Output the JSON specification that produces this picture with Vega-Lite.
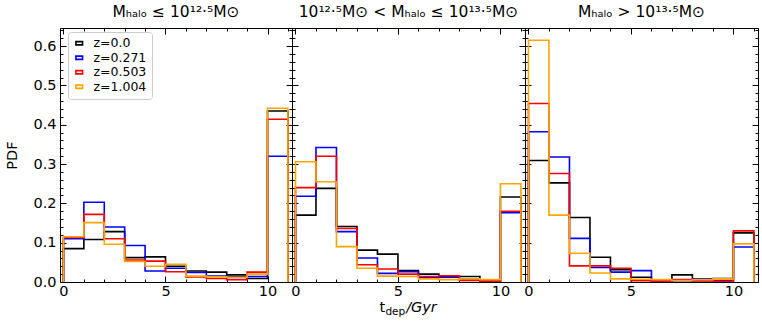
{
"$schema": "https://vega.github.io/schema/vega-lite/v6.json",
"padding": {"left": 4, "top": 4, "right": 4, "bottom": 5},
"bounds": "flush",
"config": {
  "font": "DejaVu Sans",
  "view": {"stroke": "#000000", "strokeWidth": 1},
  "concat": {"spacing": 0},
  "axis": {"domain": false, "grid": false, "labelFont": "DejaVu Sans", "labelFontSize": 14.5, "labelColor": "#000000", "tickColor": "#000000", "tickWidth": 1, "titleFont": "DejaVu Sans", "titleFontWeight": "normal", "titleFontSize": 14.5, "titleColor": "#000000"},
  "title": {"font": "DejaVu Sans", "fontSize": 15.5, "fontWeight": "normal", "color": "#000000", "offset": 7}
},
"datasets": {"d": [
{"p":"a","z":"z=0.0","t":0,"pdf":0},{"p":"a","z":"z=0.0","t":0,"pdf":0.085},{"p":"a","z":"z=0.0","t":1,"pdf":0.108},{"p":"a","z":"z=0.0","t":2,"pdf":0.128},{"p":"a","z":"z=0.0","t":3,"pdf":0.062},{"p":"a","z":"z=0.0","t":4,"pdf":0.064},{"p":"a","z":"z=0.0","t":5,"pdf":0.040},{"p":"a","z":"z=0.0","t":6,"pdf":0.028},{"p":"a","z":"z=0.0","t":7,"pdf":0.025},{"p":"a","z":"z=0.0","t":8,"pdf":0.018},{"p":"a","z":"z=0.0","t":9,"pdf":0.009},{"p":"a","z":"z=0.0","t":10,"pdf":0.435},{"p":"a","z":"z=0.0","t":11,"pdf":0},
{"p":"a","z":"z=0.271","t":0,"pdf":0},{"p":"a","z":"z=0.271","t":0,"pdf":0.110},{"p":"a","z":"z=0.271","t":1,"pdf":0.203},{"p":"a","z":"z=0.271","t":2,"pdf":0.140},{"p":"a","z":"z=0.271","t":3,"pdf":0.093},{"p":"a","z":"z=0.271","t":4,"pdf":0.028},{"p":"a","z":"z=0.271","t":5,"pdf":0.035},{"p":"a","z":"z=0.271","t":6,"pdf":0.024},{"p":"a","z":"z=0.271","t":7,"pdf":0.015},{"p":"a","z":"z=0.271","t":8,"pdf":0.013},{"p":"a","z":"z=0.271","t":9,"pdf":0.014},{"p":"a","z":"z=0.271","t":10,"pdf":0.320},{"p":"a","z":"z=0.271","t":11,"pdf":0},
{"p":"a","z":"z=0.503","t":0,"pdf":0},{"p":"a","z":"z=0.503","t":0,"pdf":0.113},{"p":"a","z":"z=0.503","t":1,"pdf":0.172},{"p":"a","z":"z=0.503","t":2,"pdf":0.110},{"p":"a","z":"z=0.503","t":3,"pdf":0.056},{"p":"a","z":"z=0.503","t":4,"pdf":0.053},{"p":"a","z":"z=0.503","t":5,"pdf":0.026},{"p":"a","z":"z=0.503","t":6,"pdf":0.013},{"p":"a","z":"z=0.503","t":7,"pdf":0.009},{"p":"a","z":"z=0.503","t":8,"pdf":0.006},{"p":"a","z":"z=0.503","t":9,"pdf":0.025},{"p":"a","z":"z=0.503","t":10,"pdf":0.414},{"p":"a","z":"z=0.503","t":11,"pdf":0},
{"p":"a","z":"z=1.004","t":0,"pdf":0},{"p":"a","z":"z=1.004","t":0,"pdf":0.115},{"p":"a","z":"z=1.004","t":1,"pdf":0.151},{"p":"a","z":"z=1.004","t":2,"pdf":0.096},{"p":"a","z":"z=1.004","t":3,"pdf":0.052},{"p":"a","z":"z=1.004","t":4,"pdf":0.040},{"p":"a","z":"z=1.004","t":5,"pdf":0.045},{"p":"a","z":"z=1.004","t":6,"pdf":0.015},{"p":"a","z":"z=1.004","t":7,"pdf":0.013},{"p":"a","z":"z=1.004","t":8,"pdf":0.012},{"p":"a","z":"z=1.004","t":9,"pdf":0.020},{"p":"a","z":"z=1.004","t":10,"pdf":0.442},{"p":"a","z":"z=1.004","t":11,"pdf":0},
{"p":"b","z":"z=0.0","t":0,"pdf":0},{"p":"b","z":"z=0.0","t":0,"pdf":0.170},{"p":"b","z":"z=0.0","t":1,"pdf":0.238},{"p":"b","z":"z=0.0","t":2,"pdf":0.141},{"p":"b","z":"z=0.0","t":3,"pdf":0.081},{"p":"b","z":"z=0.0","t":4,"pdf":0.071},{"p":"b","z":"z=0.0","t":5,"pdf":0.029},{"p":"b","z":"z=0.0","t":6,"pdf":0.020},{"p":"b","z":"z=0.0","t":7,"pdf":0.014},{"p":"b","z":"z=0.0","t":8,"pdf":0.014},{"p":"b","z":"z=0.0","t":9,"pdf":0.002},{"p":"b","z":"z=0.0","t":10,"pdf":0.216},{"p":"b","z":"z=0.0","t":11,"pdf":0},
{"p":"b","z":"z=0.271","t":0,"pdf":0},{"p":"b","z":"z=0.271","t":0,"pdf":0.218},{"p":"b","z":"z=0.271","t":1,"pdf":0.342},{"p":"b","z":"z=0.271","t":2,"pdf":0.128},{"p":"b","z":"z=0.271","t":3,"pdf":0.061},{"p":"b","z":"z=0.271","t":4,"pdf":0.022},{"p":"b","z":"z=0.271","t":5,"pdf":0.026},{"p":"b","z":"z=0.271","t":6,"pdf":0.012},{"p":"b","z":"z=0.271","t":7,"pdf":0.012},{"p":"b","z":"z=0.271","t":8,"pdf":0.006},{"p":"b","z":"z=0.271","t":9,"pdf":0.002},{"p":"b","z":"z=0.271","t":10,"pdf":0.176},{"p":"b","z":"z=0.271","t":11,"pdf":0},
{"p":"b","z":"z=0.503","t":0,"pdf":0},{"p":"b","z":"z=0.503","t":0,"pdf":0.240},{"p":"b","z":"z=0.503","t":1,"pdf":0.320},{"p":"b","z":"z=0.503","t":2,"pdf":0.136},{"p":"b","z":"z=0.503","t":3,"pdf":0.044},{"p":"b","z":"z=0.503","t":4,"pdf":0.033},{"p":"b","z":"z=0.503","t":5,"pdf":0.020},{"p":"b","z":"z=0.503","t":6,"pdf":0.014},{"p":"b","z":"z=0.503","t":7,"pdf":0.016},{"p":"b","z":"z=0.503","t":8,"pdf":0.004},{"p":"b","z":"z=0.503","t":9,"pdf":0.002},{"p":"b","z":"z=0.503","t":10,"pdf":0.180},{"p":"b","z":"z=0.503","t":11,"pdf":0},
{"p":"b","z":"z=1.004","t":0,"pdf":0},{"p":"b","z":"z=1.004","t":0,"pdf":0.306},{"p":"b","z":"z=1.004","t":1,"pdf":0.255},{"p":"b","z":"z=1.004","t":2,"pdf":0.090},{"p":"b","z":"z=1.004","t":3,"pdf":0.035},{"p":"b","z":"z=1.004","t":4,"pdf":0.015},{"p":"b","z":"z=1.004","t":5,"pdf":0.014},{"p":"b","z":"z=1.004","t":6,"pdf":0.008},{"p":"b","z":"z=1.004","t":7,"pdf":0.006},{"p":"b","z":"z=1.004","t":8,"pdf":0.008},{"p":"b","z":"z=1.004","t":9,"pdf":0.006},{"p":"b","z":"z=1.004","t":10,"pdf":0.250},{"p":"b","z":"z=1.004","t":11,"pdf":0},
{"p":"c","z":"z=0.0","t":0,"pdf":0},{"p":"c","z":"z=0.0","t":0,"pdf":0.309},{"p":"c","z":"z=0.0","t":1,"pdf":0.252},{"p":"c","z":"z=0.0","t":2,"pdf":0.164},{"p":"c","z":"z=0.0","t":3,"pdf":0.063},{"p":"c","z":"z=0.0","t":4,"pdf":0.031},{"p":"c","z":"z=0.0","t":5,"pdf":0.012},{"p":"c","z":"z=0.0","t":6,"pdf":0.002},{"p":"c","z":"z=0.0","t":7,"pdf":0.018},{"p":"c","z":"z=0.0","t":8,"pdf":0.003},{"p":"c","z":"z=0.0","t":9,"pdf":0.009},{"p":"c","z":"z=0.0","t":10,"pdf":0.125},{"p":"c","z":"z=0.0","t":11,"pdf":0},
{"p":"c","z":"z=0.271","t":0,"pdf":0},{"p":"c","z":"z=0.271","t":0,"pdf":0.382},{"p":"c","z":"z=0.271","t":1,"pdf":0.318},{"p":"c","z":"z=0.271","t":2,"pdf":0.111},{"p":"c","z":"z=0.271","t":3,"pdf":0.037},{"p":"c","z":"z=0.271","t":4,"pdf":0.025},{"p":"c","z":"z=0.271","t":5,"pdf":0.029},{"p":"c","z":"z=0.271","t":6,"pdf":0.002},{"p":"c","z":"z=0.271","t":7,"pdf":0.003},{"p":"c","z":"z=0.271","t":8,"pdf":0.008},{"p":"c","z":"z=0.271","t":9,"pdf":0.003},{"p":"c","z":"z=0.271","t":10,"pdf":0.089},{"p":"c","z":"z=0.271","t":11,"pdf":0},
{"p":"c","z":"z=0.503","t":0,"pdf":0},{"p":"c","z":"z=0.503","t":0,"pdf":0.454},{"p":"c","z":"z=0.503","t":1,"pdf":0.276},{"p":"c","z":"z=0.503","t":2,"pdf":0.041},{"p":"c","z":"z=0.503","t":3,"pdf":0.041},{"p":"c","z":"z=0.503","t":4,"pdf":0.035},{"p":"c","z":"z=0.503","t":5,"pdf":0.003},{"p":"c","z":"z=0.503","t":6,"pdf":0.002},{"p":"c","z":"z=0.503","t":7,"pdf":0.006},{"p":"c","z":"z=0.503","t":8,"pdf":0.003},{"p":"c","z":"z=0.503","t":9,"pdf":0.002},{"p":"c","z":"z=0.503","t":10,"pdf":0.130},{"p":"c","z":"z=0.503","t":11,"pdf":0},
{"p":"c","z":"z=1.004","t":0,"pdf":0},{"p":"c","z":"z=1.004","t":0,"pdf":0.615},{"p":"c","z":"z=1.004","t":1,"pdf":0.170},{"p":"c","z":"z=1.004","t":2,"pdf":0.073},{"p":"c","z":"z=1.004","t":3,"pdf":0.023},{"p":"c","z":"z=1.004","t":4,"pdf":0.008},{"p":"c","z":"z=1.004","t":5,"pdf":0.007},{"p":"c","z":"z=1.004","t":6,"pdf":0.006},{"p":"c","z":"z=1.004","t":7,"pdf":0.004},{"p":"c","z":"z=1.004","t":8,"pdf":0.006},{"p":"c","z":"z=1.004","t":9,"pdf":0.008},{"p":"c","z":"z=1.004","t":10,"pdf":0.097},{"p":"c","z":"z=1.004","t":11,"pdf":0}
]},
"hconcat": [
{
 "width": 232, "height": 254,
 "title": {"text": "Mₕₐₗₒ ≤ 10¹²·⁵M⊙"},
 "data": {"name": "d"},
 "transform": [{"filter": "datum.p == 'a'"}],
 "layer": [
  {"mark": {"type": "line", "interpolate": "step-after", "strokeWidth": 1.6},
   "encoding": {
    "x": {"field": "t", "type": "quantitative", "scale": {"domain": [-0.17, 11.2], "nice": false, "zero": false},
          "axis": {"orient": "bottom", "title": null, "values": [0,1,2,3,4,5,6,7,8,9,10,11], "labelExpr": "datum.value % 5 == 0 ? datum.label : ''", "tickSize": {"condition": {"test": "datum.value % 5 == 0", "value": -6}, "value": -3}, "labelPadding": 8}},
    "y": {"field": "pdf", "type": "quantitative", "scale": {"domain": [0, 0.646], "nice": false},
          "axis": {"orient": "left", "title": "PDF", "values": [0,0.02,0.04,0.06,0.08,0.1,0.12,0.14,0.16,0.18,0.2,0.22,0.24,0.26,0.28,0.3,0.32,0.34,0.36,0.38,0.4,0.42,0.44,0.46,0.48,0.5,0.52,0.54,0.56,0.58,0.6,0.62,0.64], "labelExpr": "abs(datum.value*10-round(datum.value*10))<0.001 ? format(datum.value,'.1f') : ''", "tickSize": {"condition": {"test": "abs(datum.value*10-round(datum.value*10))<0.001", "value": -6}, "value": -3}, "labelPadding": 10, "titlePadding": 13}},
    "color": {"field": "z", "type": "nominal", "scale": {"domain": ["z=0.0","z=0.271","z=0.503","z=1.004"], "range": ["#000000","#0000ff","#ff0000","#ffa500"]},
              "legend": {"title": null, "orient": "none", "legendX": 8, "legendY": 4, "symbolType": "M-1,-0.5H1V0.5H-1Z", "symbolSize": 44, "symbolStrokeWidth": 1.6, "labelFontSize": 12.5, "labelFont": "DejaVu Sans", "labelColor": "#000000", "labelOffset": 8, "padding": 5, "rowPadding": 1.5, "strokeColor": "#cccccc", "fillColor": "rgba(255,255,255,0.8)", "cornerRadius": 3}},
    "order": {"value": null}
   }},
  {"mark": {"type": "line", "opacity": 0},
   "encoding": {
    "x": {"field": "t", "type": "quantitative", "axis": {"orient": "top", "title": null, "values": [0,1,2,3,4,5,6,7,8,9,10,11], "labels": false, "tickSize": {"condition": {"test": "datum.value % 5 == 0", "value": -6}, "value": -3}}},
    "y": {"field": "pdf", "type": "quantitative", "axis": {"orient": "right", "title": null, "labels": false, "values": [0,0.02,0.04,0.06,0.08,0.1,0.12,0.14,0.16,0.18,0.2,0.22,0.24,0.26,0.28,0.3,0.32,0.34,0.36,0.38,0.4,0.42,0.44,0.46,0.48,0.5,0.52,0.54,0.56,0.58,0.6,0.62,0.64], "tickSize": {"condition": {"test": "abs(datum.value*10-round(datum.value*10))<0.001", "value": -6}, "value": -3}}}
   }}
 ],
 "resolve": {"axis": {"x": "independent", "y": "independent"}}
},
{
 "width": 233, "height": 254,
 "title": {"text": "10¹²·⁵M⊙ < Mₕₐₗₒ ≤ 10¹³·⁵M⊙"},
 "data": {"name": "d"},
 "transform": [{"filter": "datum.p == 'b'"}],
 "layer": [
  {"mark": {"type": "line", "interpolate": "step-after", "strokeWidth": 1.6},
   "encoding": {
    "x": {"field": "t", "type": "quantitative", "scale": {"domain": [-0.17, 11.2], "nice": false, "zero": false},
          "axis": {"orient": "bottom", "title": null, "values": [0,1,2,3,4,5,6,7,8,9,10,11], "labelExpr": "datum.value % 5 == 0 ? datum.label : ''", "tickSize": {"condition": {"test": "datum.value % 5 == 0", "value": -6}, "value": -3}, "labelPadding": 8}},
    "y": {"field": "pdf", "type": "quantitative", "scale": {"domain": [0, 0.646], "nice": false},
          "axis": {"orient": "left", "title": null, "labels": false, "values": [0,0.02,0.04,0.06,0.08,0.1,0.12,0.14,0.16,0.18,0.2,0.22,0.24,0.26,0.28,0.3,0.32,0.34,0.36,0.38,0.4,0.42,0.44,0.46,0.48,0.5,0.52,0.54,0.56,0.58,0.6,0.62,0.64], "tickSize": {"condition": {"test": "abs(datum.value*10-round(datum.value*10))<0.001", "value": -6}, "value": -3}}},
    "color": {"field": "z", "type": "nominal", "scale": {"domain": ["z=0.0","z=0.271","z=0.503","z=1.004"], "range": ["#000000","#0000ff","#ff0000","#ffa500"]},
              "legend": {"title": null, "orient": "none", "legendX": 8, "legendY": 4, "symbolType": "M-1,-0.5H1V0.5H-1Z", "symbolSize": 44, "symbolStrokeWidth": 1.6, "labelFontSize": 12.5, "labelFont": "DejaVu Sans", "labelColor": "#000000", "labelOffset": 8, "padding": 5, "rowPadding": 1.5, "strokeColor": "#cccccc", "fillColor": "rgba(255,255,255,0.8)", "cornerRadius": 3}},
    "order": {"value": null}
   }},
  {"mark": {"type": "line", "opacity": 0},
   "encoding": {
    "x": {"field": "t", "type": "quantitative", "axis": {"orient": "top", "title": null, "values": [0,1,2,3,4,5,6,7,8,9,10,11], "labels": false, "tickSize": {"condition": {"test": "datum.value % 5 == 0", "value": -6}, "value": -3}}},
    "y": {"field": "pdf", "type": "quantitative", "axis": {"orient": "right", "title": null, "labels": false, "values": [0,0.02,0.04,0.06,0.08,0.1,0.12,0.14,0.16,0.18,0.2,0.22,0.24,0.26,0.28,0.3,0.32,0.34,0.36,0.38,0.4,0.42,0.44,0.46,0.48,0.5,0.52,0.54,0.56,0.58,0.6,0.62,0.64], "tickSize": {"condition": {"test": "abs(datum.value*10-round(datum.value*10))<0.001", "value": -6}, "value": -3}}}
   }},
  {"data": {"values": [{"s": "t"}]},
   "mark": {"type": "text", "fontSize": 14.5, "align": "left", "baseline": "alphabetic", "dy": 30},
   "encoding": {"text": {"field": "s"}, "x": {"datum": 4.1, "type": "quantitative", "axis": null}, "y": {"datum": 0, "type": "quantitative", "axis": null}}},
  {"data": {"values": [{"s": "dep"}]},
   "mark": {"type": "text", "fontSize": 10.5, "align": "left", "baseline": "alphabetic", "dy": 33},
   "encoding": {"text": {"field": "s"}, "x": {"datum": 4.39, "type": "quantitative", "axis": null}, "y": {"datum": 0, "type": "quantitative", "axis": null}}},
  {"data": {"values": [{"s": "/Gyr"}]},
   "mark": {"type": "text", "fontSize": 14.5, "fontStyle": "italic", "align": "left", "baseline": "alphabetic", "dy": 30},
   "encoding": {"text": {"field": "s"}, "x": {"datum": 5.4, "type": "quantitative", "axis": null}, "y": {"datum": 0, "type": "quantitative", "axis": null}}}
 ],
 "resolve": {"axis": {"x": "independent", "y": "independent"}}
},
{
 "width": 233, "height": 254,
 "title": {"text": "Mₕₐₗₒ > 10¹³·⁵M⊙"},
 "data": {"name": "d"},
 "transform": [{"filter": "datum.p == 'c'"}],
 "layer": [
  {"mark": {"type": "line", "interpolate": "step-after", "strokeWidth": 1.6},
   "encoding": {
    "x": {"field": "t", "type": "quantitative", "scale": {"domain": [-0.17, 11.2], "nice": false, "zero": false},
          "axis": {"orient": "bottom", "title": null, "values": [0,1,2,3,4,5,6,7,8,9,10,11], "labelExpr": "datum.value % 5 == 0 ? datum.label : ''", "tickSize": {"condition": {"test": "datum.value % 5 == 0", "value": -6}, "value": -3}, "labelPadding": 8}},
    "y": {"field": "pdf", "type": "quantitative", "scale": {"domain": [0, 0.646], "nice": false},
          "axis": {"orient": "left", "title": null, "labels": false, "values": [0,0.02,0.04,0.06,0.08,0.1,0.12,0.14,0.16,0.18,0.2,0.22,0.24,0.26,0.28,0.3,0.32,0.34,0.36,0.38,0.4,0.42,0.44,0.46,0.48,0.5,0.52,0.54,0.56,0.58,0.6,0.62,0.64], "tickSize": {"condition": {"test": "abs(datum.value*10-round(datum.value*10))<0.001", "value": -6}, "value": -3}}},
    "color": {"field": "z", "type": "nominal", "scale": {"domain": ["z=0.0","z=0.271","z=0.503","z=1.004"], "range": ["#000000","#0000ff","#ff0000","#ffa500"]},
              "legend": {"title": null, "orient": "none", "legendX": 8, "legendY": 4, "symbolType": "M-1,-0.5H1V0.5H-1Z", "symbolSize": 44, "symbolStrokeWidth": 1.6, "labelFontSize": 12.5, "labelFont": "DejaVu Sans", "labelColor": "#000000", "labelOffset": 8, "padding": 5, "rowPadding": 1.5, "strokeColor": "#cccccc", "fillColor": "rgba(255,255,255,0.8)", "cornerRadius": 3}},
    "order": {"value": null}
   }},
  {"mark": {"type": "line", "opacity": 0},
   "encoding": {
    "x": {"field": "t", "type": "quantitative", "axis": {"orient": "top", "title": null, "values": [0,1,2,3,4,5,6,7,8,9,10,11], "labels": false, "tickSize": {"condition": {"test": "datum.value % 5 == 0", "value": -6}, "value": -3}}},
    "y": {"field": "pdf", "type": "quantitative", "axis": {"orient": "right", "title": null, "labels": false, "values": [0,0.02,0.04,0.06,0.08,0.1,0.12,0.14,0.16,0.18,0.2,0.22,0.24,0.26,0.28,0.3,0.32,0.34,0.36,0.38,0.4,0.42,0.44,0.46,0.48,0.5,0.52,0.54,0.56,0.58,0.6,0.62,0.64], "tickSize": {"condition": {"test": "abs(datum.value*10-round(datum.value*10))<0.001", "value": -6}, "value": -3}}}
   }}
 ],
 "resolve": {"axis": {"x": "independent", "y": "independent"}}
}
],
"resolve": {"scale": {"color": "shared"}}
}
